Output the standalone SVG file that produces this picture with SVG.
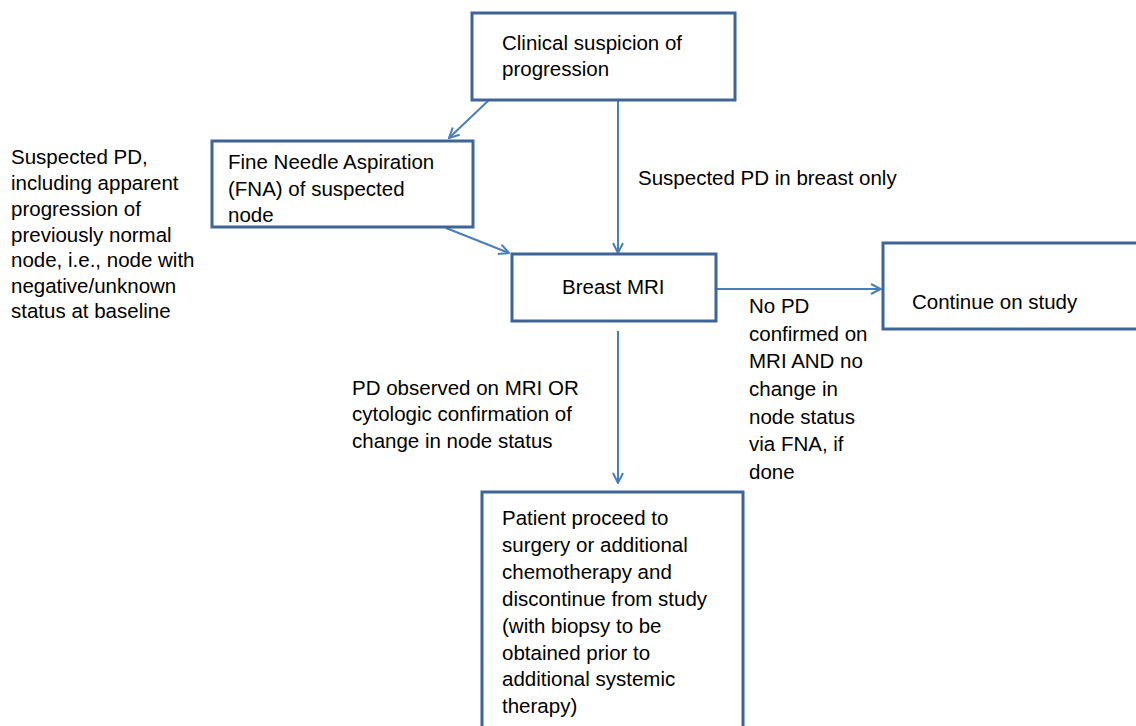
<svg xmlns="http://www.w3.org/2000/svg" width="1136" height="726" viewBox="0 0 1136 726">
<style>
.box{fill:#ffffff;stroke:#3E6596;stroke-width:3}
.t{font-family:"Liberation Sans",Arial,sans-serif;font-size:20.5px;fill:#000000}
.c{fill:none;stroke:#4A7EBB;stroke-width:2}
</style>
<defs>
<marker id="arr" viewBox="0 0 12 12" refX="11" refY="6" markerWidth="12" markerHeight="12" markerUnits="userSpaceOnUse" orient="auto">
<path d="M1,1 L11,6 L1,11" fill="none" stroke="#4A7EBB" stroke-width="2"/>
</marker>
</defs>
<rect width="1136" height="726" fill="#ffffff"/>
<g id="connectors">
<line class="c" x1="489" y1="100" x2="449" y2="138" marker-end="url(#arr)"/>
<line class="c" x1="618" y1="100" x2="618" y2="253" marker-end="url(#arr)"/>
<line class="c" x1="446" y1="228" x2="509" y2="253" marker-end="url(#arr)"/>
<line class="c" x1="716" y1="289" x2="881" y2="289" marker-end="url(#arr)"/>
<line class="c" x1="618" y1="331" x2="618" y2="483" marker-end="url(#arr)"/>
</g>
<g id="node-clinical">
<rect class="box" x="472" y="13" width="263" height="87"/>
<text class="t" x="502" y="50">Clinical suspicion of</text>
<text class="t" x="502" y="76">progression</text>
</g>
<g id="node-fna">
<rect class="box" x="212" y="141" width="261" height="86"/>
<text class="t" x="228" y="169">Fine Needle Aspiration</text>
<text class="t" x="228" y="196">(FNA) of suspected</text>
<text class="t" x="228" y="222">node</text>
</g>
<g id="node-mri">
<rect class="box" x="512" y="254" width="204" height="67"/>
<text class="t" x="562" y="294">Breast MRI</text>
</g>
<g id="node-continue">
<rect class="box" x="883" y="243" width="270" height="86"/>
<text class="t" x="912" y="309">Continue on study</text>
</g>
<g id="node-patient">
<rect class="box" x="482" y="492" width="261" height="250"/>
<text class="t" x="502" y="525">Patient proceed to</text>
<text class="t" x="502" y="552">surgery or additional</text>
<text class="t" x="502" y="579">chemotherapy and</text>
<text class="t" x="502" y="606">discontinue from study</text>
<text class="t" x="502" y="633">(with biopsy to be</text>
<text class="t" x="502" y="660">obtained prior to</text>
<text class="t" x="502" y="686">additional systemic</text>
<text class="t" x="502" y="713">therapy)</text>
</g>
<g id="labels">
<text class="t" x="11" y="164">Suspected PD,</text>
<text class="t" x="11" y="190">including apparent</text>
<text class="t" x="11" y="216">progression of</text>
<text class="t" x="11" y="242">previously normal</text>
<text class="t" x="11" y="267">node, i.e., node with</text>
<text class="t" x="11" y="293">negative/unknown</text>
<text class="t" x="11" y="318">status at baseline</text>
<text class="t" x="638" y="185">Suspected PD in breast only</text>
<text class="t" x="749" y="313">No PD</text>
<text class="t" x="749" y="341">confirmed on</text>
<text class="t" x="749" y="368">MRI AND no</text>
<text class="t" x="749" y="396">change in</text>
<text class="t" x="749" y="424">node status</text>
<text class="t" x="749" y="451">via FNA, if</text>
<text class="t" x="749" y="479">done</text>
<text class="t" x="352" y="395">PD observed on MRI OR</text>
<text class="t" x="352" y="421">cytologic confirmation of</text>
<text class="t" x="352" y="448">change in node status</text>
</g>
</svg>
